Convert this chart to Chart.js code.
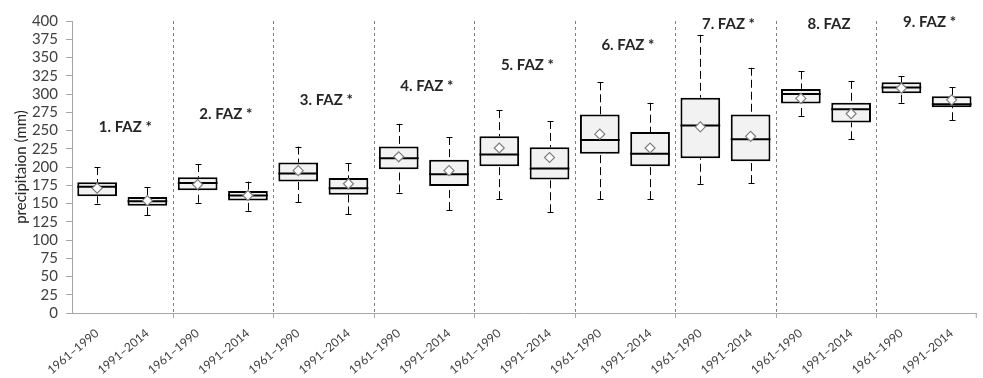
<!DOCTYPE html>
<html>
<head>
<meta charset="utf-8">
<script src="https://cdn.jsdelivr.net/npm/chart.js@4/dist/chart.umd.min.js"></script>
<style>
html,body{margin:0;padding:0;background:#fff;}
#wrap{width:983px;height:378px;position:relative;}
</style>
</head>
<body>
<div id="wrap"><canvas id="c"></canvas></div>
<script>
// ---- data ----
const categories = ['1961–1990','1991–2014','1961–1990','1991–2014','1961–1990','1991–2014',
  '1961–1990','1991–2014','1961–1990','1991–2014','1961–1990','1991–2014',
  '1961–1990','1991–2014','1961–1990','1991–2014','1961–1990','1991–2014'];
const groupLabels = ['1. FAZ *','2. FAZ *','3. FAZ *','4. FAZ *','5. FAZ *','6. FAZ *','7. FAZ *','8. FAZ','9. FAZ *'];
const groupLabelValue = [254, 273, 291, 311, 339, 367, 395, 395, 398];
const whiskerLow  = [150,134,151,140,152,135,165,141,156,138,156,156,177,178,270,238,288,264];
const q1          = [160,147,168,154,180,162,197,174,201,183,218,201,212,208,287,261,301,282];
const median      = [173,153,178,161,191,171,212,190,217,198,237,218,257,238,300,279,309,286];
const q3          = [179,159,186,167,206,185,228,210,242,227,272,248,295,272,307,288,316,297];
const whiskerHigh = [200,172,204,180,228,205,259,241,278,263,316,288,381,336,331,318,324,309];
const mean        = [171,154,176,161,195,177,214,195,226,213,245,226,255,242,294,273,308,292];
const yTitle = 'precipitaion (mm)';

const boxData = q1.map((v,i)=>[v,q3[i]]);

const boxPlugin = {
  id:'boxParts',
  beforeDatasetsDraw(chart){
    const {ctx, scales:{x,y}, chartArea:a} = chart;
    ctx.save();
    // group separators
    ctx.strokeStyle='#7f7f7f'; ctx.lineWidth=1; ctx.setLineDash([3,3]);
    for(let i=2;i<categories.length;i+=2){
      const px = Math.round((x.getPixelForValue(i-1)+x.getPixelForValue(i))/2)+0.5;
      ctx.beginPath(); ctx.moveTo(px,a.top); ctx.lineTo(px,a.bottom); ctx.stroke();
    }
    ctx.setLineDash([]);
    ctx.strokeStyle='#a6a6a6';
    for(let i=2;i<=categories.length;i+=2){
      let px;
      if(i===categories.length) px = a.right-0.5;
      else px = Math.round((x.getPixelForValue(i-1)+x.getPixelForValue(i))/2)+0.5;
      ctx.beginPath(); ctx.moveTo(px,a.bottom); ctx.lineTo(px,a.bottom+5); ctx.stroke();
    }
    // whiskers
    ctx.strokeStyle='#000'; ctx.lineWidth=1;
    categories.forEach((c,i)=>{
      const cx = Math.round(x.getPixelForValue(i))+0.5;
      const yl = y.getPixelForValue(whiskerLow[i]), yh = y.getPixelForValue(whiskerHigh[i]);
      const yq1 = y.getPixelForValue(q1[i]), yq3 = y.getPixelForValue(q3[i]);
      ctx.setLineDash([8,4]);
      ctx.beginPath(); ctx.moveTo(cx,yh); ctx.lineTo(cx,yq3); ctx.stroke();
      ctx.beginPath(); ctx.moveTo(cx,yl); ctx.lineTo(cx,yq1); ctx.stroke();
      ctx.setLineDash([]);
      ctx.beginPath(); ctx.moveTo(cx-3,Math.round(yh)+0.5); ctx.lineTo(cx+3,Math.round(yh)+0.5);
      ctx.moveTo(cx-3,Math.round(yl)+0.5); ctx.lineTo(cx+3,Math.round(yl)+0.5); ctx.stroke();
    });
    ctx.restore();
  },
  afterDatasetDraw(chart,args){
    if(args.index!==0) return;
    const {ctx, scales:{x,y}} = chart;
    const meta = chart.getDatasetMeta(0);
    ctx.save();
    ctx.strokeStyle='#000'; ctx.lineWidth=2;
    meta.data.forEach((bar,i)=>{
      const w = bar.width;
      const ym = y.getPixelForValue(median[i]);
      ctx.beginPath(); ctx.moveTo(bar.x-w/2,ym); ctx.lineTo(bar.x+w/2,ym); ctx.stroke();
    });
    ctx.restore();
  },
  afterDraw(chart){
    const {ctx, scales:{x,y}} = chart;
    ctx.save();
    ctx.font='bold 15px Lato, "Open Sans", sans-serif';
    ctx.fillStyle='#262626'; ctx.textAlign='center'; ctx.textBaseline='middle';
    groupLabels.forEach((t,g)=>{
      const px = (x.getPixelForValue(2*g)+x.getPixelForValue(2*g+1))/2+3;
      ctx.fillText(t,px,y.getPixelForValue(groupLabelValue[g]));
    });
    ctx.restore();
  }
};

new Chart(document.getElementById('c'),{
  type:'bar',
  data:{
    labels:categories,
    datasets:[
      {type:'bar',data:boxData,backgroundColor:'#f2f2f2',borderColor:'#000',borderWidth:2,
       borderSkipped:false,barPercentage:0.79,categoryPercentage:1,order:2},
      {type:'line',data:mean,showLine:false,pointStyle:'rectRot',pointRadius:5,
       pointBackgroundColor:'#fff',pointBorderColor:'#7f7f7f',pointBorderWidth:1.2,order:1}
    ]
  },
  options:{
    responsive:true,maintainAspectRatio:false,animation:false,
    layout:{padding:{top:21,right:0,left:0,bottom:0}},
    plugins:{legend:{display:false},tooltip:{enabled:false}},
    scales:{
      x:{
        grid:{display:false,drawTicks:false,tickLength:0},
        border:{color:'#a6a6a6',width:1},
        ticks:{color:'#404040',font:{family:'Lato, "Open Sans", sans-serif',size:12},
          minRotation:40,maxRotation:40,autoSkip:false,padding:13},
        afterFit(s){s.height=65;}
      },
      y:{
        min:0,max:400,
        grid:{drawOnChartArea:false,tickLength:6,tickColor:'#a6a6a6'},
        border:{color:'#a6a6a6',width:1},
        ticks:{stepSize:25,autoSkip:false,color:'#404040',padding:8,font:{family:'Lato, "Open Sans", sans-serif',size:15}},
        title:{display:true,text:yTitle,color:'#262626',font:{family:'Lato, "Open Sans", sans-serif',size:15},padding:{top:12,bottom:0}},
        afterFit(s){s.width=72;}
      }
    }
  },
  plugins:[boxPlugin]
});
</script>
</body>
</html>
